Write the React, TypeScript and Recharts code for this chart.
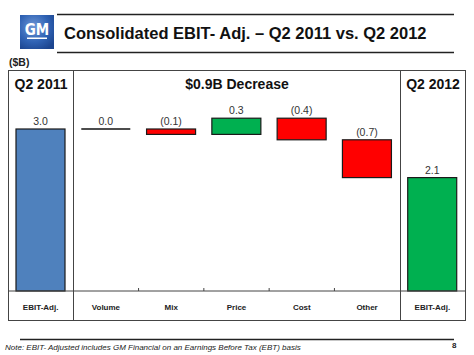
import React from "react";
import { BarChart, Bar, XAxis, YAxis, LabelList } from "recharts";

// waterfall: Q2 2011 EBIT-adj. -> drivers -> Q2 2012 EBIT-adj. ($B)
const categories = ["EBIT-Adj.", "Volume", "Mix", "Price", "Cost", "Other", "EBIT-Adj."];
const changes = [3.0, 0.0, -0.1, 0.3, -0.4, -0.7, 2.1];
const barKinds = ["total", "flat", "down", "up", "down", "down", "end"];
const sectionTitles = ["Q2 2011", "$0.9B Decrease", "Q2 2012"];
const yDomain = [0, 3.5];

const FONT = "'Liberation Sans', Arial, Helvetica, sans-serif";

const fmt = (v: number) => (v < 0 ? `(${Math.abs(v).toFixed(1)})` : v.toFixed(1));

let running = 0;
const data = categories.map((name, i) => {
  const v = changes[i];
  const kind = barKinds[i];
  let range: number[];
  if (kind === "total" || kind === "end") {
    range = [0, v];
    running = v;
  } else {
    const next = Math.round((running + v) * 10) / 10;
    range = [Math.min(running, next), Math.max(running, next)];
    running = next;
  }
  return { name, range, kind, label: fmt(v) };
});

const fillFor = (kind: string) => {
  if (kind === "total") return "#4F81BD";
  if (kind === "end" || kind === "up") return "#00B050";
  return "#FF0000";
};

const WaterfallBar = (props: any) => {
  const { x, y, width, height } = props;
  const kind = props.payload?.kind ?? props.kind;
  if (!height || Math.abs(height) < 0.5) {
    return <line x1={x} x2={x + width} y1={y} y2={y} stroke="#111" strokeWidth={1.5} />;
  }
  return (
    <rect x={x} y={y} width={width} height={height} fill={fillFor(kind)} stroke="#1a1a1a" strokeWidth={1.2} />
  );
};

const CategoryTick = (props: any) => {
  const { x, y, index, payload } = props;
  const bw = (props.width || 457) / categories.length;
  const bx = x - bw / 2;
  return (
    <g>
      {index >= 2 && index <= 5 && (
        <line x1={bx} x2={bx} y1={y} y2={y - 3} stroke="#444" strokeWidth={1} />
      )}
      <text x={x} y={y + 19} textAnchor="middle" fontFamily={FONT} fontSize={8} fontWeight="bold" fill="#222">
        {payload.value}
      </text>
    </g>
  );
};

function Chrome() {
  const stroke = "#444";
  return (
    <svg width={474} height={355} style={{ position: "absolute", left: 0, top: 0, pointerEvents: "none" }}>
      <defs>
        <radialGradient id="gm" cx="40%" cy="35%" r="75%">
          <stop offset="0%" stopColor="#6f98d6" />
          <stop offset="60%" stopColor="#2f62b4" />
          <stop offset="100%" stopColor="#1c458f" />
        </radialGradient>
      </defs>
      {/* header */}
      <rect x={20} y={15} width={34} height={34} fill="url(#gm)" />
      <text x={37} y={34.5} textAnchor="middle" fontFamily="'DejaVu Sans Condensed', 'Liberation Sans Narrow', sans-serif" fontWeight="bold" fontSize={15} fill="#fff">
        GM
      </text>
      <rect x={27} y={37.5} width={20} height={1.5} fill="#fff" />
      <line x1={57} x2={454} y1={14.5} y2={14.5} stroke="#222" strokeWidth={1.5} />
      <line x1={57} x2={454} y1={52.5} y2={52.5} stroke="#222" strokeWidth={1.5} />
      <text x={64} y={38.5} fontFamily={FONT} fontWeight="bold" fontSize={16.5} fill="#111">
        Consolidated EBIT- Adj. – Q2 2011 vs. Q2 2012
      </text>
      <text x={9} y={66} fontFamily={FONT} fontWeight="bold" fontSize={10.5} fill="#222">
        ($B)
      </text>
      {/* frame */}
      <rect x={8.5} y={70.5} width={457} height={250} fill="none" stroke={stroke} strokeWidth={1} />
      <line x1={73.5} x2={73.5} y1={70.5} y2={320.5} stroke={stroke} strokeWidth={1} />
      <line x1={400.5} x2={400.5} y1={70.5} y2={320.5} stroke={stroke} strokeWidth={1} />
      <text x={41} y={88.5} textAnchor="middle" fontFamily={FONT} fontWeight="bold" fontSize={14} fill="#111">
        {sectionTitles[0]}
      </text>
      <text x={237} y={88.5} textAnchor="middle" fontFamily={FONT} fontWeight="bold" fontSize={14} fill="#111">
        {sectionTitles[1]}
      </text>
      <text x={433} y={88.5} textAnchor="middle" fontFamily={FONT} fontWeight="bold" fontSize={14} fill="#111">
        {sectionTitles[2]}
      </text>
      {/* footer */}
      <line x1={20} x2={454} y1={339.5} y2={339.5} stroke="#222" strokeWidth={1.5} />
      <text x={5} y={350} fontFamily={FONT} fontStyle="italic" fontSize={8} fill="#222">
        Note: EBIT- Adjusted includes GM Financial on an Earnings Before Tax (EBT) basis
      </text>
      <text x={452} y={348} fontFamily={FONT} fontWeight="bold" fontSize={8} fill="#222">
        8
      </text>
    </svg>
  );
}

export default function App() {
  return (
    <div style={{ position: "absolute", left: 0, top: 0, width: 474, height: 355, background: "#fff", overflow: "hidden" }}>
      <div style={{ position: "absolute", left: 8, top: 70 }}>
        <BarChart width={457} height={250} data={data} margin={{ top: 32, right: 0, left: 0, bottom: 0 }}>
          <XAxis
            dataKey="name"
            height={29}
            interval={0}
            tickSize={0}
            tickMargin={0}
            tickLine={false}
            axisLine={{ stroke: "#444", strokeWidth: 1 }}
            tick={<CategoryTick />}
          />
          <YAxis hide domain={yDomain} />
          <Bar dataKey="range" barSize={49} shape={<WaterfallBar />} isAnimationActive={false}>
            <LabelList dataKey="label" position="top" offset={4} fontFamily={FONT} fontSize={10.5} fill="#333" />
          </Bar>
        </BarChart>
      </div>
      <Chrome />
    </div>
  );
}
